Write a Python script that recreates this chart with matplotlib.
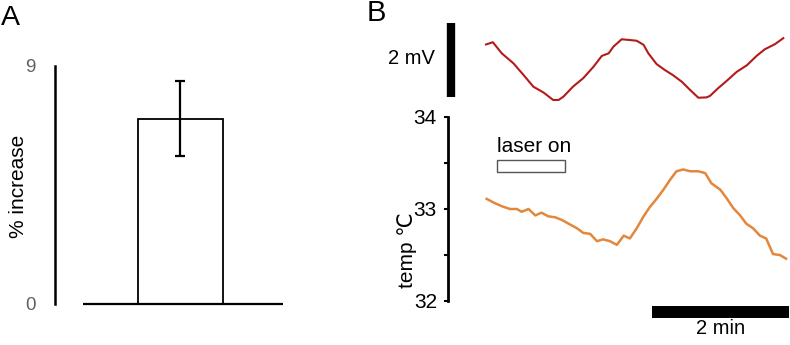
import matplotlib
matplotlib.use("Agg")
import matplotlib.pyplot as plt
import matplotlib.patches as patches

plt.rcParams['font.family'] = ['Liberation Sans', 'DejaVu Sans']

# panel A: mean % increase with error
bar_mean = 7.0
bar_err = 1.42
a_ticks = [0, 9]

# panel B: time in minutes
red_t = [0.00, 0.10, 0.23, 0.40, 0.55, 0.69, 0.84, 0.98, 1.06, 1.13, 1.27, 1.42,
         1.57, 1.69, 1.79, 1.86, 1.98, 2.10, 2.20, 2.30, 2.37, 2.49, 2.61, 2.73,
         2.86, 2.98, 3.10, 3.22, 3.27, 3.39, 3.51, 3.66, 3.81, 3.95, 4.07, 4.22, 4.34]
red_mv = [1.42, 1.48, 1.18, 0.91, 0.59, 0.28, 0.12, -0.08, -0.08, 0.01, 0.28, 0.51,
          0.82, 1.11, 1.18, 1.36, 1.56, 1.54, 1.52, 1.41, 1.18, 0.89, 0.73, 0.59,
          0.41, 0.19, -0.02, -0.01, 0.03, 0.24, 0.43, 0.68, 0.86, 1.11, 1.29, 1.43, 1.59]

temp_t = [0.01, 0.11, 0.23, 0.35, 0.45, 0.52, 0.62, 0.72, 0.81, 0.91, 1.01, 1.11,
          1.23, 1.33, 1.42, 1.52, 1.62, 1.71, 1.81, 1.91, 2.01, 2.10, 2.20, 2.30,
          2.39, 2.49, 2.59, 2.69, 2.78, 2.88, 2.98, 3.10, 3.20, 3.29, 3.42, 3.51,
          3.61, 3.71, 3.80, 3.90, 4.00, 4.09, 4.19, 4.29, 4.38]
temp_c = [33.11, 33.07, 33.03, 33.00, 33.00, 32.97, 33.00, 32.93, 32.96, 32.92, 32.91, 32.88,
          32.83, 32.79, 32.74, 32.73, 32.65, 32.67, 32.65, 32.61, 32.71, 32.68, 32.79, 32.92,
          33.02, 33.11, 33.21, 33.32, 33.41, 33.43, 33.41, 33.41, 33.39, 33.28, 33.21, 33.12,
          33.01, 32.93, 32.84, 32.79, 32.71, 32.68, 32.51, 32.50, 32.46]
temp_ticks = [32, 32.5, 33, 33.5, 34]
temp_labels = ['32', '', '33', '', '34']

laser_start, laser_len = 0.16, 1.0
mv_bar = 2.0
min_bar_start, min_bar_len = 2.42, 2.0

W, H = 790, 345
fig = plt.figure(figsize=(W / 100, H / 100), dpi=100)


def px_axes(left, top, right, bottom):
    return fig.add_axes([left / W, 1 - bottom / H, (right - left) / W, (bottom - top) / H])


# ---- panel A ----
axA = px_axes(55, 66, 290, 304)
axA.bar(0, bar_mean, width=1.0, facecolor='white', edgecolor='black', linewidth=1.3, zorder=2)
axA.errorbar(0, bar_mean, yerr=bar_err, color='black', lw=1.6, capsize=3.5, capthick=1.6, zorder=3)
axA.plot([-1.14, 1.21], [0, 0], color='black', lw=1.6, solid_capstyle='butt', clip_on=False)
axA.set_xlim(-1.47, 1.29)
axA.set_ylim(0, 9)
axA.set_yticks(a_ticks)
axA.set_yticklabels([str(v) for v in a_ticks], color='#606060', fontsize=13.5)
axA.tick_params(axis='y', length=0, pad=14)
axA.set_xticks([])
for s in ['top', 'right', 'bottom']:
    axA.spines[s].set_visible(False)
axA.spines['left'].set_linewidth(1.8)
axA.patch.set_visible(False)
fig.text(19 / W, 1 - 186 / H, '% increase', rotation=90, ha='center', va='center', fontsize=15)

# ---- panel B, top: membrane potential ----
t_left, t_right = -0.672, 4.438
axV = px_axes(440, 20, 790, 105)
axV.plot(red_t, red_mv, color='#B31B1B', lw=1.5)
axV.plot([-0.511, -0.511], [0, mv_bar], color='black', lw=6, solid_capstyle='butt')
axV.text(-0.74, mv_bar / 2 + 0.05, '2 mV', ha='right', va='center', fontsize=14.5)
axV.set_xlim(t_left, t_right)
axV.set_ylim((97 - 105) / 37, (97 - 20) / 37)
axV.axis('off')

# ---- panel B, bottom: temperature ----
axT = px_axes(448, 105, 790, 345)
axT.plot(temp_t, temp_c, color='#E2873B', lw=1.8)
axT.add_patch(patches.Rectangle((laser_start, 33.402), laser_len, 0.131,
                                facecolor='white', edgecolor='#555555', lw=1.0))
axT.text(laser_start, 33.62, 'laser on', ha='left', va='baseline', fontsize=15)
axT.plot([min_bar_start, min_bar_start + min_bar_len], [31.88, 31.88],
         color='black', lw=8.6, solid_capstyle='butt', clip_on=False)
axT.text(min_bar_start + min_bar_len / 2, 31.80, '2 min', ha='center', va='top', fontsize=14.5)
axT.set_xlim(-0.555, 4.438)
axT.set_ylim(34 - (345 - 117) / 92, 34 + 12 / 92)
axT.spines['left'].set_bounds(32, 34)
axT.spines['left'].set_linewidth(2.0)
for s in ['top', 'right', 'bottom']:
    axT.spines[s].set_visible(False)
axT.set_xticks([])
axT.set_yticks(temp_ticks)
axT.set_yticklabels(temp_labels, fontsize=15)
axT.tick_params(axis='y', length=3, width=1.5, pad=5)
axT.patch.set_visible(False)

fig.text(407 / W, 1 - 250 / H, 'temp ℃', rotation=90, ha='center', va='center', fontsize=15)

fig.text(1 / W, 1 - 18 / H, 'A', ha='left', va='center', fontsize=20.5)
fig.text(367 / W, 1 - 13 / H, 'B', ha='left', va='center', fontsize=21)

fig.savefig('out.png', dpi=100)
